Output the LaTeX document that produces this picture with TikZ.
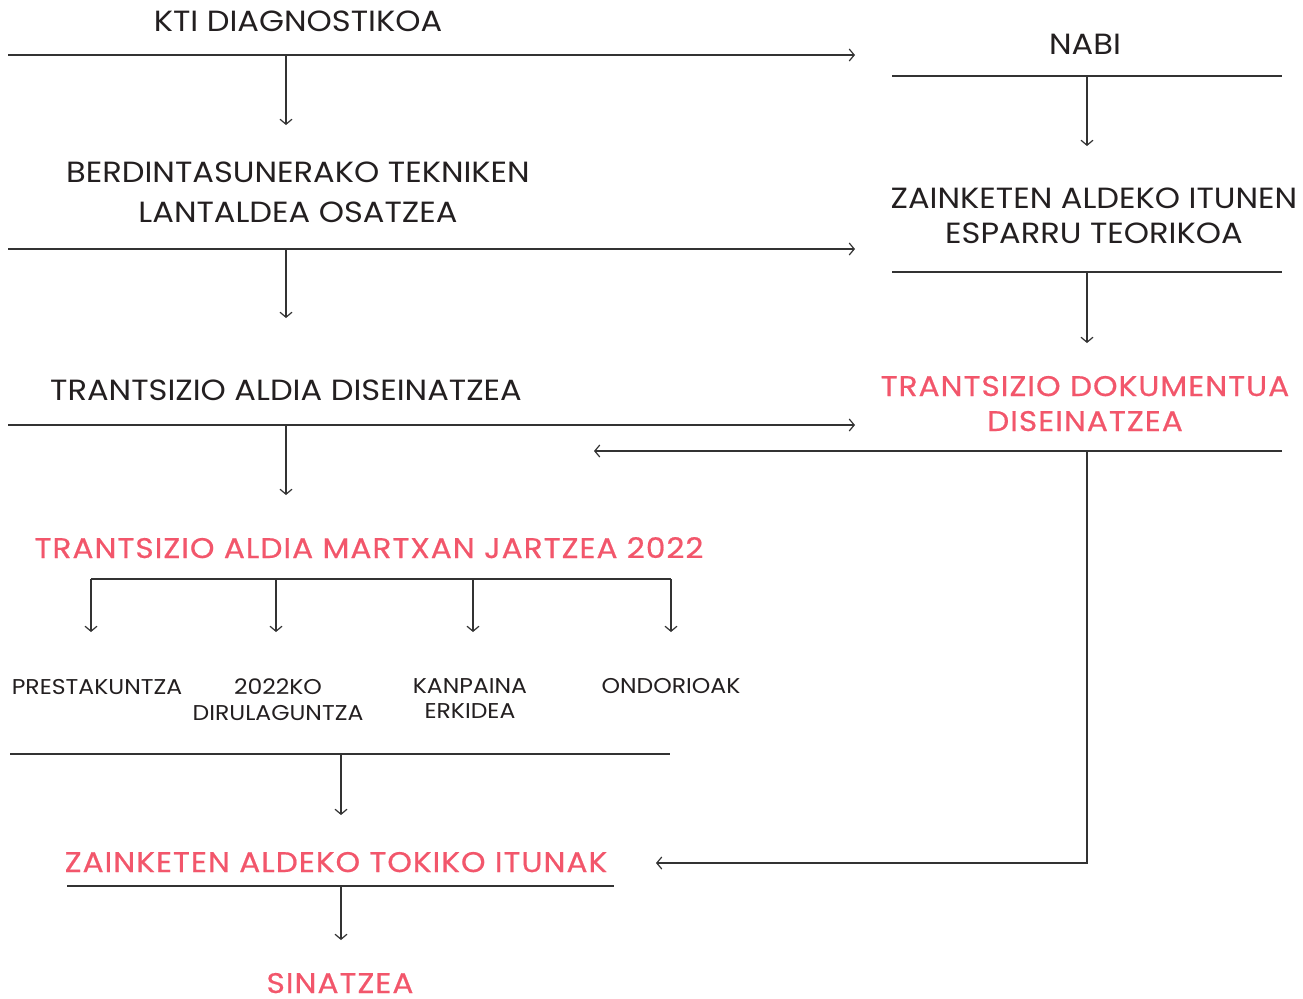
\documentclass[tikz,border=0pt]{standalone}
\usepackage{fontspec}
\setmainfont{Poppins}
\newfontfamily\wideface[FakeStretch=1.1]{Poppins}
\newfontfamily\redface[FakeStretch=1.1,FakeBold=0.6,LetterSpace=3.5]{Poppins}
\usetikzlibrary{arrows.meta}
\definecolor{txt}{HTML}{231F20}
\definecolor{accent}{HTML}{F2566B}
\definecolor{ln}{HTML}{333333}
\tikzset{
  big/.style={font=\wideface\fontsize{14.6}{20}\selectfont, text=txt, inner sep=0pt, align=center, anchor=base},
  bigred/.style={font=\redface\fontsize{14.2}{17.5}\selectfont, text=accent, inner sep=0pt, align=center, anchor=base},
  small/.style={font=\wideface\fontsize{10.7}{13}\selectfont, text=txt, inner sep=0pt, align=center, anchor=base},
  rule/.style={draw=ln, line width=0.6pt},
  flow/.style={draw=ln, line width=0.6pt, -{Straight Barb[length=2.5pt,width=6pt,line width=0.6pt]}}
}
\begin{document}
\begin{tikzpicture}[x=0.5pt,y=-0.5pt]
\useasboundingbox (0,0) rectangle (1303,998);
% left column texts (base anchor = last line's baseline)
\node[big] (kti) at (298,31) {KTI DIAGNOSTIKOA};
\node[big] (berd) at (298,222) {BERDINTASUNERAKO TEKNIKEN\\LANTALDEA OSATZEA};
\node[big] (tad) at (286,400) {TRANTSIZIO ALDIA DISEINATZEA};
\node[bigred] (mar) at (369,558) {TRANTSIZIO ALDIA MARTXAN JARTZEA 2022};
\node[small] (pre) at (97,694) {PRESTAKUNTZA};
\node[small] (dir) at (278,720) {2022KO\\DIRULAGUNTZA};
\node[small, font=\wideface\fontsize{10.7}{12.5}\selectfont] (kan) at (470,718) {KANPAINA\\ERKIDEA};
\node[small] (ond) at (671,693) {ONDORIOAK};
\node[bigred] (tok) at (336,872) {ZAINKETEN ALDEKO TOKIKO ITUNAK};
\node[bigred] (sin) at (340,993) {SINATZEA};
% right column texts
\node[big] (nabi) at (1085,54) {NABI};
\node[big, font=\wideface\fontsize{14.6}{17.5}\selectfont] (esp) at (1094,243) {ZAINKETEN ALDEKO ITUNEN\\ESPARRU TEORIKOA};
\node[bigred] (dok) at (1085,431) {TRANTSIZIO DOKUMENTUA\\DISEINATZEA};
% coordinates
\coordinate (r1a) at (8,55);   \coordinate (r1b) at (855,55);
\coordinate (r2a) at (8,249);  \coordinate (r2b) at (855,249);
\coordinate (r3a) at (8,425);  \coordinate (r3b) at (855,425);
\coordinate (v1a) at (286,55);  \coordinate (v1b) at (286,125);
\coordinate (v2a) at (286,249); \coordinate (v2b) at (286,318);
\coordinate (v3a) at (286,425); \coordinate (v3b) at (286,495);
\coordinate (b1) at (91,579); \coordinate (b2) at (276,579); \coordinate (b3) at (473,579); \coordinate (b4) at (671,579);
\coordinate (b1e) at (91,632); \coordinate (b2e) at (276,632); \coordinate (b3e) at (473,632); \coordinate (b4e) at (671,632);
\coordinate (r4a) at (10,754); \coordinate (r4b) at (670,754);
\coordinate (v4a) at (341,754); \coordinate (v4b) at (341,815);
\coordinate (r5a) at (67,886); \coordinate (r5b) at (614,886);
\coordinate (v5a) at (341,886); \coordinate (v5b) at (341,940);
\coordinate (q1a) at (892,76);  \coordinate (q1b) at (1282,76);
\coordinate (w1a) at (1087,76); \coordinate (w1b) at (1087,146);
\coordinate (q2a) at (892,272); \coordinate (q2b) at (1282,272);
\coordinate (w2a) at (1087,272); \coordinate (w2b) at (1087,343);
\coordinate (q3a) at (1282,451); \coordinate (q3b) at (594,451);
\coordinate (w3a) at (1087,451); \coordinate (w3c) at (1087,863); \coordinate (w3b) at (656,863);
% left lines
\draw[flow] (r1a) -- (r1b);
\draw[flow] (v1a) -- (v1b);
\draw[flow] (r2a) -- (r2b);
\draw[flow] (v2a) -- (v2b);
\draw[flow] (r3a) -- (r3b);
\draw[flow] (v3a) -- (v3b);
\draw[rule] (b1) -- (b4);
\draw[flow] (b1) -- (b1e);
\draw[flow] (b2) -- (b2e);
\draw[flow] (b3) -- (b3e);
\draw[flow] (b4) -- (b4e);
\draw[rule] (r4a) -- (r4b);
\draw[flow] (v4a) -- (v4b);
\draw[rule] (r5a) -- (r5b);
\draw[flow] (v5a) -- (v5b);
% right lines
\draw[rule] (q1a) -- (q1b);
\draw[flow] (w1a) -- (w1b);
\draw[rule] (q2a) -- (q2b);
\draw[flow] (w2a) -- (w2b);
\draw[flow] (q3a) -- (q3b);
\draw[flow] (w3a) -- (w3c) -- (w3b);
\end{tikzpicture}
\end{document}
